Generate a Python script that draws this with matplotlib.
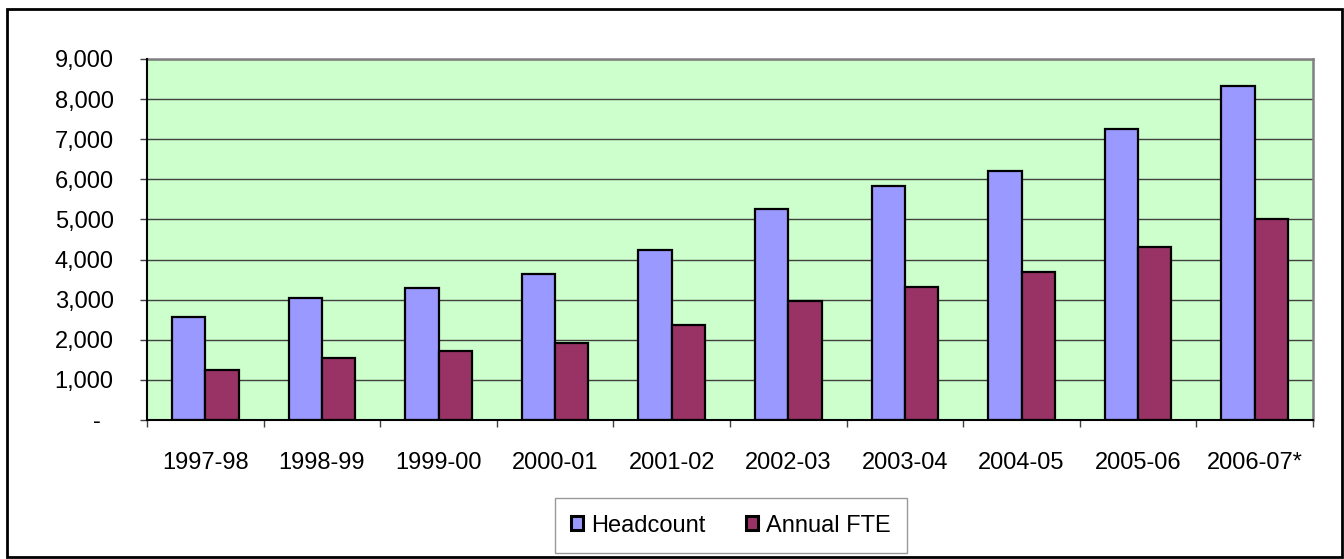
import matplotlib
matplotlib.use("Agg")
import matplotlib.pyplot as plt
from matplotlib.patches import Rectangle
from matplotlib.ticker import FuncFormatter, FixedLocator
import numpy as np

### chart data
years = ["1997-98", "1998-99", "1999-00", "2000-01", "2001-02",
         "2002-03", "2003-04", "2004-05", "2005-06", "2006-07*"]
headcount = [2580, 3030, 3280, 3650, 4240, 5250, 5830, 6210, 7260, 8330]
annual_fte = [1240, 1550, 1710, 1930, 2370, 2960, 3310, 3690, 4310, 5010]
series_names = ["Headcount", "Annual FTE"]

### styles
HC_COLOR = "#9999FF"
FTE_COLOR = "#993366"
PLOT_BG = "#CCFFCC"
FONT = "Liberation Sans"
FS = 17

plt.rcParams["font.family"] = [FONT, "DejaVu Sans"]

W, H = 1344, 559
fig = plt.figure(figsize=(W / 100, H / 100), dpi=100)

### plot area in pixel coordinates
left, right, top, bottom = 147, 1313, 59, 420
ax = fig.add_axes([left / W, 1 - bottom / H, (right - left) / W, (bottom - top) / H])
ax.set_facecolor(PLOT_BG)

x = np.arange(len(years))
w = 1 / 3.5
ax.bar(x - w / 2, headcount, width=w, color=HC_COLOR, edgecolor="black",
       linewidth=1.6, label=series_names[0], zorder=3)
ax.bar(x + w / 2, annual_fte, width=w, color=FTE_COLOR, edgecolor="black",
       linewidth=1.6, label=series_names[1], zorder=3)

ax.set_xlim(-0.5, len(years) - 0.5)
ax.set_ylim(0, 9000)

### y axis
ax.set_yticks(np.arange(0, 9001, 1000))
ax.yaxis.set_major_formatter(FuncFormatter(lambda v, p: "-  " if v == 0 else f"{int(v):,}"))
ax.yaxis.grid(True, color="#404040", linewidth=1.0, zorder=1)
ax.tick_params(axis="y", direction="out", length=5, width=1, color="#404040",
               pad=19, labelsize=FS)

### x axis: labels at centres, tick marks at category boundaries
ax.set_xticks(x)
ax.set_xticklabels(years)
ax.tick_params(axis="x", which="major", length=0, pad=23, labelsize=FS)
ax.xaxis.set_minor_locator(FixedLocator(np.arange(-0.5, len(years), 1.0)))
ax.tick_params(axis="x", which="minor", direction="out", length=5, width=1, color="#404040")

for lab in ax.get_xticklabels() + ax.get_yticklabels():
    lab.set_color("black")

### spines
ax.spines["left"].set_color("black")
ax.spines["left"].set_linewidth(1.5)
ax.spines["bottom"].set_color("black")
ax.spines["bottom"].set_linewidth(1.5)
for s in ("top", "right"):
    ax.spines[s].set_color("#808080")
    ax.spines[s].set_linewidth(1.8)
ax.spines["bottom"].set_zorder(4)
ax.spines["left"].set_zorder(4)

### legend
leg = fig.legend(loc="center", bbox_to_anchor=(731 / W, 1 - 525.5 / H), ncol=2,
                 fontsize=FS, frameon=True, fancybox=False, edgecolor="#808080",
                 handlelength=0.5, handleheight=0.5, handletextpad=0.35,
                 columnspacing=1.7, borderpad=0.7)
leg.get_frame().set_linewidth(1.0)
for h in leg.legend_handles:
    h.set_linewidth(2.2)

### outer border around the whole chart
fig.patches.append(Rectangle((7 / W, 2 / H), (1342 - 7) / W, (557 - 9) / H,
                             transform=fig.transFigure, fill=False,
                             edgecolor="black", linewidth=2.0))

fig.savefig("out.png", dpi=100)
